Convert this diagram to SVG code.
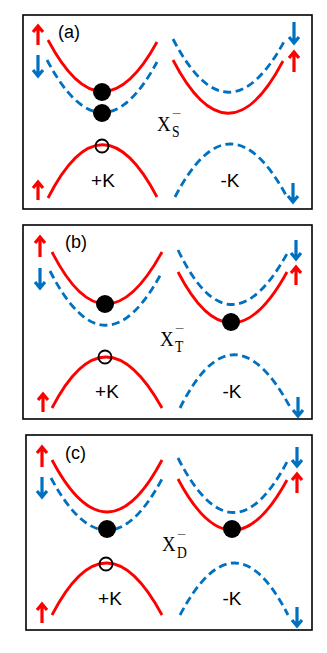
<svg xmlns="http://www.w3.org/2000/svg" width="327" height="653" viewBox="0 0 327 653">
<style>
.box{fill:#fff;stroke:#000;stroke-width:1.6}
.r{fill:none;stroke:#ff0000;stroke-width:2.8}
.b{fill:none;stroke:#0070c0;stroke-width:2.8;stroke-dasharray:8 4.5}
.dot{fill:#000}
.hole{fill:none;stroke:#000;stroke-width:1.8}
.ar{fill:none;stroke:#ff0000;stroke-width:3.2}
.ab{fill:none;stroke:#0070c0;stroke-width:3.2}
.lbl{font-family:"Liberation Sans",Arial,sans-serif;font-size:18px;fill:#000}
.k{font-family:"Liberation Sans",Arial,sans-serif;font-size:19px;fill:#000;text-anchor:middle}
.x{font-family:"Liberation Serif","Times New Roman",serif;font-size:21px;fill:#000}
.s{font-family:"Liberation Serif","Times New Roman",serif;font-size:16px;fill:#000}
.m{font-family:"Liberation Serif","Times New Roman",serif;font-size:12px;fill:#000}
</style>
<rect width="327" height="653" fill="#fff"/>
<g id="panel-a">
<rect class="box" x="23" y="15" width="289" height="194"/>
<path class="r" d="M48,40 Q102,142 157,42"/>
<path class="b" d="M47,60 Q102,164 157,62"/>
<path class="r" d="M173,60 Q228,166 283,61"/>
<path class="b" d="M173,39 Q228,145 285,40"/>
<path class="r" d="M48,198 Q102,92 157,197"/>
<path class="b" d="M175,197 Q230,91 287,197"/>
<circle class="dot" cx="102" cy="92" r="9"/>
<circle class="dot" cx="102" cy="113" r="9"/>
<circle class="hole" cx="102" cy="146" r="6.5"/>
<path class="ar" d="M38,45 V26 M33,32 L38,26 L43,32"/>
<path class="ab" d="M38,55 V76 M33,70 L38,76 L43,70"/>
<path class="ar" d="M38,200 V182 M33,188 L38,182 L43,188"/>
<path class="ab" d="M294,22 V43 M289,37 L294,43 L299,37"/>
<path class="ar" d="M294,72 V52 M289,58 L294,52 L299,58"/>
<path class="ab" d="M293,183 V202 M288,196 L293,202 L298,196"/>
<text class="lbl" x="58" y="38">(a)</text>
<text class="k" x="103" y="187">+K</text>
<text class="k" x="230" y="187">-K</text>
<text class="x" transform="translate(157,131) scale(0.9,1)">X</text>
<text class="s" transform="translate(172,137) scale(0.85,1)">S</text>
<text class="m" transform="translate(172,117) scale(1.4,1)">−</text>
</g>
<g id="panel-b">
<rect class="box" x="23" y="225" width="289" height="194"/>
<path class="r" d="M52,252 Q105,356 162,252"/>
<path class="b" d="M50,271 Q105,379 162,272"/>
<path class="b" d="M178,250 Q230,358 288,252"/>
<path class="r" d="M178,272 Q231,374 287,272"/>
<path class="r" d="M52,408 Q105,306 162,408"/>
<path class="b" d="M180,408 Q233,302 290,407"/>
<circle class="dot" cx="105" cy="304" r="9"/>
<circle class="dot" cx="231" cy="322" r="9"/>
<circle class="hole" cx="105" cy="357" r="6.5"/>
<path class="ar" d="M40,257 V237 M35,243 L40,237 L45,243"/>
<path class="ab" d="M40,268 V288 M35,282 L40,288 L45,282"/>
<path class="ar" d="M43,412 V394 M38,400 L43,394 L48,400"/>
<path class="ab" d="M296,240 V259 M291,253 L296,259 L301,253"/>
<path class="ar" d="M296,285 V267 M291,273 L296,267 L301,273"/>
<path class="ab" d="M298,397 V416 M293,410 L298,416 L303,410"/>
<text class="lbl" x="65" y="248">(b)</text>
<text class="k" x="107" y="398">+K</text>
<text class="k" x="232" y="398">-K</text>
<text class="x" transform="translate(160,346) scale(0.9,1)">X</text>
<text class="s" transform="translate(175,352) scale(0.85,1)">T</text>
<text class="m" transform="translate(175,332) scale(1.4,1)">−</text>
</g>
<g id="panel-c">
<rect class="box" x="26" y="435" width="286" height="195"/>
<path class="r" d="M52,460 Q107,564 162,460"/>
<path class="b" d="M51,478 Q107,582 162,479"/>
<path class="b" d="M178,458 Q233,566 288,460"/>
<path class="r" d="M178,479 Q232,581 287,480"/>
<path class="r" d="M52,615 Q106,511 162,615"/>
<path class="b" d="M180,615 Q235,511 288,615"/>
<circle class="dot" cx="107" cy="529" r="9"/>
<circle class="dot" cx="232" cy="529" r="9"/>
<circle class="hole" cx="106" cy="564" r="6.5"/>
<path class="ar" d="M42,467 V447 M37,453 L42,447 L47,453"/>
<path class="ab" d="M42,477 V497 M37,491 L42,497 L47,491"/>
<path class="ar" d="M42,623 V604 M37,610 L42,604 L47,610"/>
<path class="ab" d="M297,447 V466 M292,460 L297,466 L302,460"/>
<path class="ar" d="M297,493 V474 M292,480 L297,474 L302,480"/>
<path class="ab" d="M297,607 V626 M292,620 L297,626 L302,620"/>
<text class="lbl" x="65" y="459">(c)</text>
<text class="k" x="110" y="605">+K</text>
<text class="k" x="232" y="605">-K</text>
<text class="x" transform="translate(162,551) scale(0.9,1)">X</text>
<text class="s" transform="translate(177,558) scale(0.85,1)">D</text>
<text class="m" transform="translate(177,538) scale(1.4,1)">−</text>
</g>
</svg>
